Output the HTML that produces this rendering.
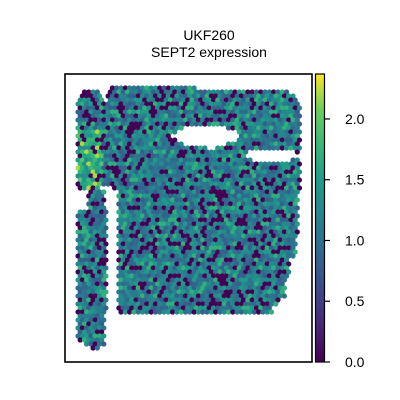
<!DOCTYPE html>
<html><head><meta charset="utf-8"><style>
body{margin:0;background:#fff;}
svg{display:block;font-family:"Liberation Sans",sans-serif;}
</style></head><body>
<svg id="chart" width="400" height="400">
<defs><linearGradient id="vir" x1="0" y1="1" x2="0" y2="0">
<stop offset="0" stop-color="#440154"/><stop offset="0.13" stop-color="#482878"/><stop offset="0.25" stop-color="#3e4989"/><stop offset="0.38" stop-color="#31688e"/><stop offset="0.5" stop-color="#26828e"/><stop offset="0.63" stop-color="#1f9e89"/><stop offset="0.75" stop-color="#35b779"/><stop offset="0.88" stop-color="#6ece58"/><stop offset="1" stop-color="#fde725"/></linearGradient></defs>
<text x="209" y="40" text-anchor="middle" font-size="14">UKF260</text>
<text x="209" y="57" text-anchor="middle" font-size="14">SEPT2 expression</text>
<g id="spots"></g>
<rect x="65" y="74" width="247" height="288" fill="none" stroke="#000" stroke-width="1.6"/>
<rect x="315.5" y="74" width="9" height="288" fill="url(#vir)" stroke="#000" stroke-width="1.2"/>
<g id="cbticks"></g>
</svg>
<script>
const vmax = 2.37;
const tickValues = [0.0, 0.5, 1.0, 1.5, 2.0];
const tickLabels = ["0.0", "0.5", "1.0", "1.5", "2.0"];
// expression level table (value per code) and per-row / per-column codes
const levelValues = [0.0, 0.8, 1.0, 1.25, 1.1, 1.45, 0.9, 1.3, 1.7, 0.0];
const rowCodes = "381605729416038275941620583719402658173094826153047298615307429861";
const colCodes = "52904718362059147283605491726830514927360851492736051";
const shapeKeys = [
[88,112,196],[92,82,100,110,290],[96,80,102,108,296],[104,78,300],
[128,78,185,228,300],[132,78,175,235,300],[136,78,172,240,300],[140,78,175,238,300],
[144,78,185,225,300],[148,78,205,215,300],[152,78,248,294,300],[156,78,246],[160,78,250,292,300],[164,78,300],[186,78,100,112,300],
[192,88,104,118,298],[212,78,106,118,298],[240,78,106,118,296],[260,78,106,118,290],
[280,78,106,118,285],[300,78,106,118,280],[308,78,106,118,272],[316,78,104],[344,86,104],[348,92,100]];

const stops=[[68,1,84],[72,40,120],[62,73,137],[49,104,142],[38,130,142],[31,158,137],[53,183,121],[110,206,88],[253,231,37]];
function viridis(t){t=Math.max(0,Math.min(1,t));const p=t*(stops.length-1);const i=Math.min(Math.floor(p),stops.length-2);const f=p-i;
const c=stops[i].map((v,k)=>Math.round(v+(stops[i+1][k]-v)*f));return `rgb(${c[0]},${c[1]},${c[2]})`;}
const cbTop=74, cbBot=362;
function yScale(v){return cbBot-(v/vmax)*(cbBot-cbTop);}
function segsFor(y){let s=null;for(const k of shapeKeys){if(k[0]<=y)s=k;}return s?s.slice(1):[];}
const NS='http://www.w3.org/2000/svg';
const g=document.getElementById('spots');
for(let i=0;i<rowCodes.length;i++){
  const y=88+i*4;const segs=segsFor(y);
  const r=parseInt(rowCodes[i]);
  for(let j=0;j<colCodes.length;j++){
    const x=78+j*4.3+(i%2)*2.15;
    let inside=false;for(let s=0;s<segs.length;s+=2){if(x>=segs[s]&&x<=segs[s+1])inside=true;}
    if(!inside)continue;
    const c0=parseInt(colCodes[j]);
    const code=(r*3+c0*7+((i*j)%7))%10;
    let v=levelValues[code];
    if(x<102&&y>130&&y<190&&code!==0&&code!==9)v+=0.5;
    const c=document.createElementNS(NS,'circle');
    c.setAttribute('cx',x.toFixed(2));c.setAttribute('cy',y);c.setAttribute('r',2.6);
    c.setAttribute('fill',viridis(v/vmax));
    
    
    g.appendChild(c);
  }
}
const tg=document.getElementById('cbticks');
tickValues.forEach((v,i)=>{
  const y=yScale(v);
  const l=document.createElementNS(NS,'line');
  l.setAttribute('x1',324.5);l.setAttribute('x2',330);l.setAttribute('y1',y);l.setAttribute('y2',y);l.setAttribute('stroke','#000');l.setAttribute('stroke-width',1.2);
  
  
  tg.appendChild(l);
  const t=document.createElementNS(NS,'text');
  t.setAttribute('x',345);t.setAttribute('y',y+5);t.setAttribute('font-size',14);t.textContent=tickLabels[i];
  
  
  tg.appendChild(t);
});
</script>
</body></html>
